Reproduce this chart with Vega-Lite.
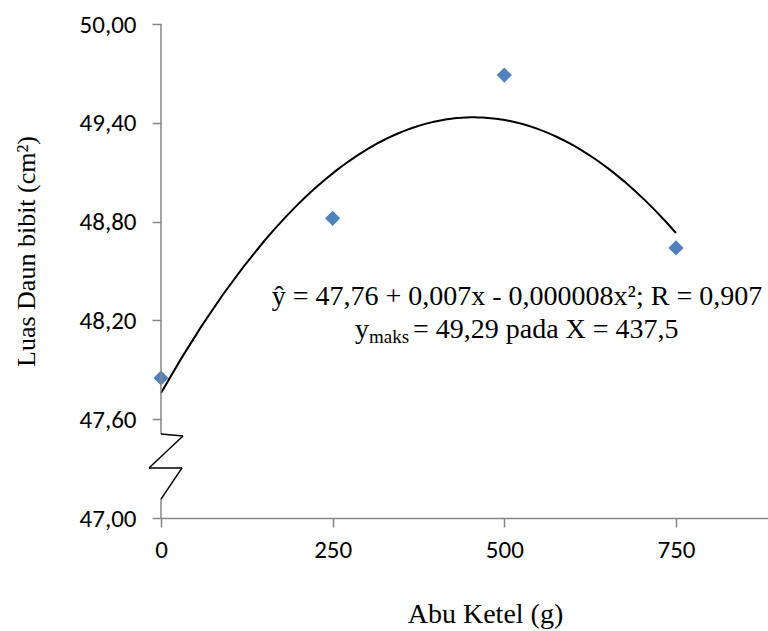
{
  "$schema": "https://vega.github.io/schema/vega-lite/v6.json",
  "width": 607,
  "height": 494,
  "autosize": "none",
  "padding": {"left": 161, "top": 24, "right": 0, "bottom": 113},
  "background": "white",
  "config": {"view": {"stroke": null}},
  "datasets": {
    "hasil": [
      {"abu_ketel": 0, "luas_daun": 47.85},
      {"abu_ketel": 250, "luas_daun": 48.82},
      {"abu_ketel": 500, "luas_daun": 49.69},
      {"abu_ketel": 750, "luas_daun": 48.64}
    ],
    "catatan": [{"persamaan": "ŷ = 47,76 + 0,007x - 0,000008x²; R = 0,907", "y_awal": "y", "subskrip": "maks", "maks": "= 49,29 pada X = 437,5"}]
  },
  "layer": [
    {
      "data": {"name": "hasil"},
      "mark": {"type": "point", "shape": "diamond", "filled": true, "color": "#4F81BD", "size": 230, "opacity": 1},
      "encoding": {
        "x": {"field": "abu_ketel", "type": "quantitative",
          "scale": {"domain": [0, 884], "nice": false, "zero": false},
          "axis": {"values": [0, 250, 500, 750], "grid": false, "domain": true, "domainColor": "#868686", "domainWidth": 1.5,
            "ticks": true, "tickSize": 9, "tickColor": "#868686", "tickWidth": 1.5,
            "labelFont": "Carlito, 'Liberation Sans'", "labelFontSize": 25, "labelColor": "#000000",
            "labelPadding": 10, "labelFlush": false, "labelOverlap": false,
            "title": "Abu Ketel (g)", "titleFont": "Liberation Serif", "titleFontSize": 28, "titleFontWeight": "normal", "titleColor": "#000000",
            "titleX": 324, "titleY": 104, "titleAlign": "center", "titleBaseline": "alphabetic"}},
        "y": {"field": "luas_daun", "type": "quantitative",
          "scale": {"domain": [47, 50], "nice": false, "zero": false},
          "axis": {"values": [47, 47.6, 48.2, 48.8, 49.4, 50], "grid": false, "domain": false,
            "ticks": true, "tickSize": 9, "tickColor": "#868686", "tickWidth": 1.5,
            "labelExpr": "replace(format(datum.value, '.2f'), '.', ',')",
            "labelFont": "Carlito, 'Liberation Sans'", "labelFontSize": 25, "labelColor": "#000000",
            "labelPadding": 16, "labelFlush": false, "labelOverlap": false,
            "title": "Luas Daun bibit (cm²)", "titleFont": "Liberation Serif", "titleFontSize": 26, "titleFontWeight": "normal", "titleColor": "#000000",
            "titleX": -135, "titleY": 227, "titleAngle": -90, "titleAlign": "center", "titleBaseline": "middle"}}
      }
    },
    {
      "data": {"name": "hasil"},
      "transform": [{"regression": "luas_daun", "on": "abu_ketel", "method": "poly", "order": 2, "extent": [0, 750]}],
      "mark": {"type": "line", "color": "#000000", "strokeWidth": 2, "clip": false},
      "encoding": {
        "x": {"field": "abu_ketel", "type": "quantitative"},
        "y": {"field": "luas_daun", "type": "quantitative"}
      }
    },
    {
      "data": {"name": "catatan"},
      "mark": {"type": "rule", "color": "#868686", "strokeWidth": 1.5},
      "encoding": {"x": {"datum": 0}, "y": {"datum": 47.51}, "y2": {"datum": 50}}
    },
    {
      "data": {"name": "catatan"},
      "mark": {"type": "rule", "color": "#868686", "strokeWidth": 1.5},
      "encoding": {"x": {"datum": 0}, "y": {"datum": 47}, "y2": {"datum": 47.115}}
    },
    {
      "data": {"name": "catatan"},
      "mark": {"type": "rule", "color": "#000000", "strokeWidth": 1.5},
      "encoding": {"x": {"datum": 0}, "y": {"datum": 47.51}, "x2": {"datum": 32}, "y2": {"datum": 47.498}}
    },
    {
      "data": {"name": "catatan"},
      "mark": {"type": "rule", "color": "#000000", "strokeWidth": 1.5},
      "encoding": {"x": {"datum": 32}, "y": {"datum": 47.498}, "x2": {"datum": -17.5}, "y2": {"datum": 47.304}}
    },
    {
      "data": {"name": "catatan"},
      "mark": {"type": "rule", "color": "#000000", "strokeWidth": 1.5},
      "encoding": {"x": {"datum": -17.5}, "y": {"datum": 47.304}, "x2": {"datum": 30.6}, "y2": {"datum": 47.304}}
    },
    {
      "data": {"name": "catatan"},
      "mark": {"type": "rule", "color": "#000000", "strokeWidth": 1.5},
      "encoding": {"x": {"datum": 30.6}, "y": {"datum": 47.304}, "x2": {"datum": 0}, "y2": {"datum": 47.115}}
    },
    {
      "data": {"name": "catatan"},
      "mark": {"type": "text", "font": "Liberation Serif", "fontSize": 28, "color": "#000000", "align": "center", "baseline": "alphabetic"},
      "encoding": {"x": {"datum": 518.4}, "y": {"datum": 48.294}, "text": {"field": "persamaan"}}
    },
    {
      "data": {"name": "catatan"},
      "mark": {"type": "text", "font": "Liberation Serif", "fontSize": 28, "color": "#000000", "align": "left", "baseline": "alphabetic", "dx": -162},
      "encoding": {"x": {"datum": 518.4}, "y": {"datum": 48.093}, "text": {"field": "y_awal"}}
    },
    {
      "data": {"name": "catatan"},
      "mark": {"type": "text", "font": "Liberation Serif", "fontSize": 19, "color": "#000000", "align": "left", "baseline": "alphabetic", "dx": -148, "dy": 5},
      "encoding": {"x": {"datum": 518.4}, "y": {"datum": 48.093}, "text": {"field": "subskrip"}}
    },
    {
      "data": {"name": "catatan"},
      "mark": {"type": "text", "font": "Liberation Serif", "fontSize": 28, "color": "#000000", "align": "left", "baseline": "alphabetic", "dx": -104},
      "encoding": {"x": {"datum": 518.4}, "y": {"datum": 48.093}, "text": {"field": "maks"}}
    }
  ]
}
